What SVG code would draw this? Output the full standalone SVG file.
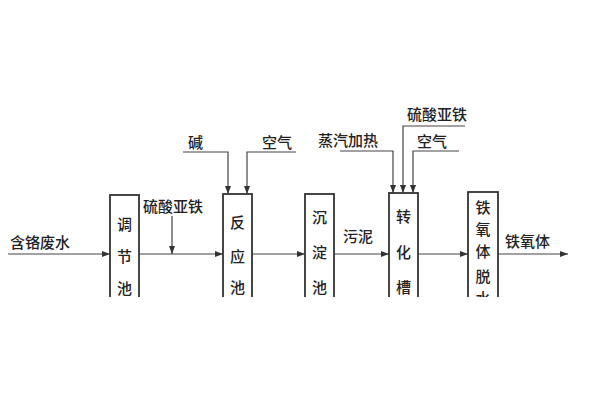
<svg xmlns="http://www.w3.org/2000/svg" width="600" height="400" viewBox="0 0 600 400">
<defs>
<marker id="ah" markerWidth="8" markerHeight="6" refX="8" refY="3" orient="auto" markerUnits="userSpaceOnUse">
<path d="M0,0 L8,3 L0,6 z" fill="#333"/>
</marker>
<clipPath id="cut"><rect x="0" y="0" width="600" height="297"/></clipPath>
<style>
.box{fill:#fff;stroke:#333;stroke-width:1.8}
.ln{fill:none;stroke:#444;stroke-width:1.2}
.t{font-family:"Noto Sans CJK SC","Noto Sans CJK JP",sans-serif;font-size:15px;font-weight:500;fill:#222}
.c{text-anchor:middle}
</style>
</defs>
<rect width="600" height="400" fill="#fff"/>
<g clip-path="url(#cut)">
<g id="connectors">
<line class="ln" x1="8" y1="254" x2="110" y2="254" marker-end="url(#ah)"/>
<line class="ln" x1="139" y1="254" x2="223" y2="254" marker-end="url(#ah)"/>
<line class="ln" x1="172" y1="216" x2="172" y2="254" marker-end="url(#ah)"/>
<polyline class="ln" points="183,152 228,152 228,194" marker-end="url(#ah)"/>
<polyline class="ln" points="296,152 247,152 247,194" marker-end="url(#ah)"/>
<line class="ln" x1="252" y1="254" x2="305" y2="254" marker-end="url(#ah)"/>
<line class="ln" x1="334" y1="254" x2="389" y2="254" marker-end="url(#ah)"/>
<polyline class="ln" points="340,151 393,151 393,193" marker-end="url(#ah)"/>
<polyline class="ln" points="465,126 403,126 403,193" marker-end="url(#ah)"/>
<polyline class="ln" points="459,151 413,151 413,193" marker-end="url(#ah)"/>
<line class="ln" x1="418" y1="254" x2="468" y2="254" marker-end="url(#ah)"/>
<line class="ln" x1="498" y1="254" x2="568" y2="254" marker-end="url(#ah)"/>
</g>
<g id="n1"><rect class="box" x="110" y="195" width="29" height="120"/>
<text class="t c" x="124.5" y="230">调</text><text class="t c" x="124.5" y="262">节</text><text class="t c" x="124.5" y="294">池</text></g>
<g id="n2"><rect class="box" x="223" y="194" width="29" height="120"/>
<text class="t c" x="237.5" y="228">反</text><text class="t c" x="237.5" y="262">应</text><text class="t c" x="237.5" y="293">池</text></g>
<g id="n3"><rect class="box" x="305" y="194" width="29" height="120"/>
<text class="t c" x="319.5" y="223">沉</text><text class="t c" x="319.5" y="258">淀</text><text class="t c" x="319.5" y="293">池</text></g>
<g id="n4"><rect class="box" x="389" y="193" width="29" height="120"/>
<text class="t c" x="403.5" y="222">转</text><text class="t c" x="403.5" y="258">化</text><text class="t c" x="403.5" y="293">槽</text></g>
<g id="n5"><rect class="box" x="468" y="192" width="30" height="120"/>
<text class="t c" x="483" y="213">铁</text><text class="t c" x="483" y="235">氧</text><text class="t c" x="483" y="257">体</text><text class="t c" x="483" y="282">脱</text><text class="t c" x="483" y="304">水</text></g>
</g>
<g id="labels">
<text class="t" x="10" y="248">含铬废水</text>
<text class="t" x="143" y="212">硫酸亚铁</text>
<text class="t" x="188" y="148">碱</text>
<text class="t" x="262" y="148">空气</text>
<text class="t" x="343" y="242">污泥</text>
<text class="t" x="318" y="146">蒸汽加热</text>
<text class="t" x="407" y="120">硫酸亚铁</text>
<text class="t" x="417" y="147">空气</text>
<text class="t" x="505" y="247">铁氧体</text>
</g>
</svg>
